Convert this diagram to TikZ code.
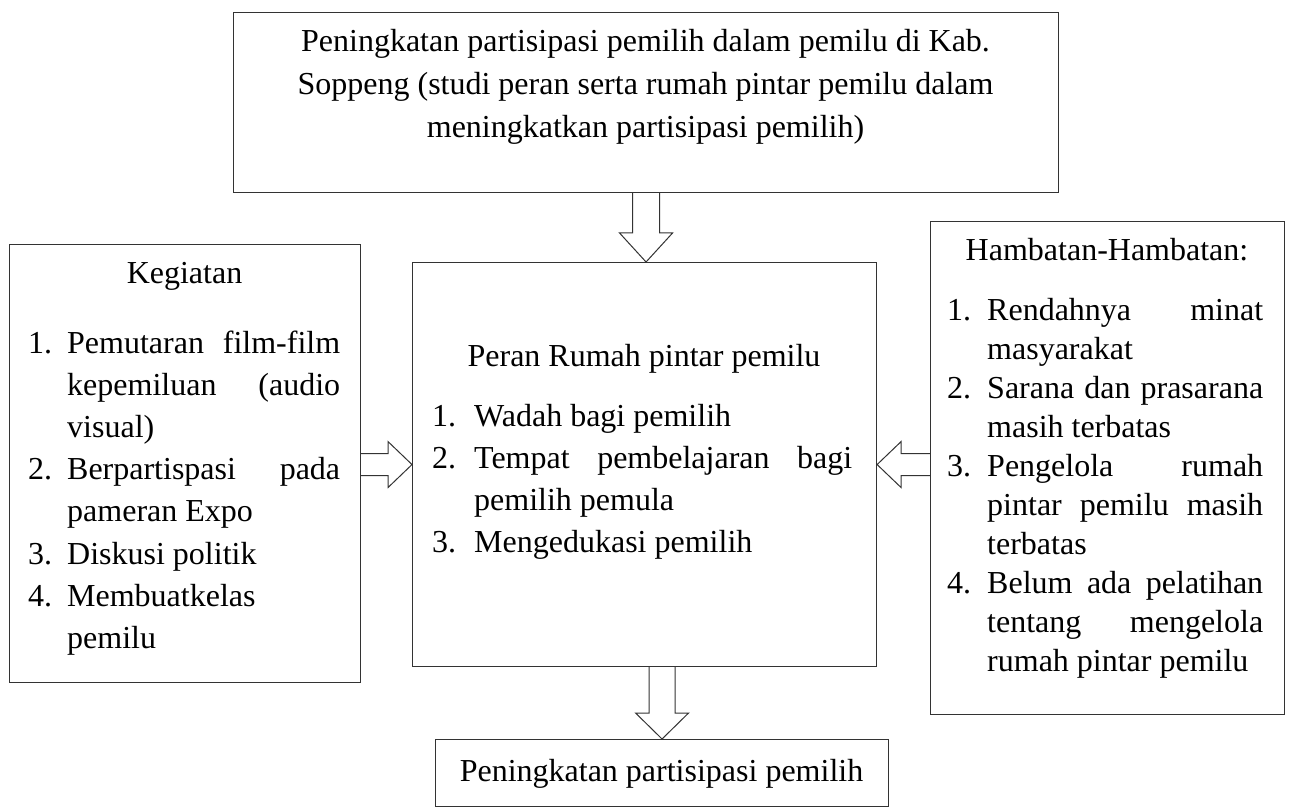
\documentclass[tikz,border=0pt]{standalone}
\usepackage{fontspec}
\setmainfont{Liberation Serif}
\usetikzlibrary{calc}
\newlength{\lsthang}
\newcommand{\lstfont}[1]{\fontsize{32}{#1}\selectfont\tolerance=10000\hbadness=10000\hyphenpenalty=10000\exhyphenpenalty=10000}
\newcommand{\itm}[2]{\par\hangindent=\lsthang\hangafter=1\noindent\makebox[\lsthang][l]{#1}#2}
\tikzset{
  box/.style={draw=black!80, line width=1.1pt, inner sep=0pt, anchor=north west},
  blockarrow/.style={draw=black!80, line width=1pt, line join=miter},
  txt/.style={inner sep=0pt, anchor=base},
  lst/.style={inner sep=0pt, anchor=base west},
  every node/.style={font=\fontsize{32}{42}\selectfont}
}
\begin{document}
\begin{tikzpicture}[x=1pt,y=-1pt]
\fill[white] (0,0) rectangle (1289,810);
\useasboundingbox (0,0) rectangle (1289,810);
% boxes
\node[box, minimum width=825pt, minimum height=180pt] (top) at (233,12) {};
\node[box, minimum width=351pt, minimum height=438pt] (left) at (9,244) {};
\node[box, minimum width=464pt, minimum height=404pt] (center) at (412,262) {};
\node[box, minimum width=354pt, minimum height=493pt] (right) at (930,221) {};
\node[box, minimum width=453pt, minimum height=67pt] (bottom) at (435,739) {};
% arrows
\coordinate (t1) at (top.south);
\coordinate (t2) at (top.south |- center.north);
\draw[blockarrow] ($(t1)+(-13.5,0)$) -- ($(t2)+(-13.5,-29)$) -- ($(t2)+(-26.5,-29)$) -- (t2) -- ($(t2)+(26.5,-29)$) -- ($(t2)+(13.5,-29)$) -- ($(t1)+(13.5,0)$);
\coordinate (b1) at (bottom.north |- center.south);
\coordinate (b2) at (bottom.north);
\draw[blockarrow] ($(b1)+(-13,0)$) -- ($(b2)+(-13,-26)$) -- ($(b2)+(-26.5,-26)$) -- (b2) -- ($(b2)+(26.5,-26)$) -- ($(b2)+(13,-26)$) -- ($(b1)+(13,0)$);
\coordinate (l1) at (left.east |- center.west);
\coordinate (l2) at (center.west);
\draw[blockarrow] ($(l1)+(0,-11)$) -- ($(l2)+(-24,-11)$) -- ($(l2)+(-24,-23)$) -- (l2) -- ($(l2)+(-24,23)$) -- ($(l2)+(-24,11)$) -- ($(l1)+(0,11)$);
\coordinate (r1) at (right.west |- center.east);
\coordinate (r2) at (center.east);
\draw[blockarrow] ($(r1)+(0,-11)$) -- ($(r2)+(24,-11)$) -- ($(r2)+(24,-23)$) -- (r2) -- ($(r2)+(24,23)$) -- ($(r2)+(24,11)$) -- ($(r1)+(0,11)$);
% texts
\node[txt] (toptext) at (645.5,52) {\parbox[t]{800pt}{\centering\fontsize{32}{43}\selectfont Peningkatan partisipasi pemilih dalam pemilu di Kab.\\ Soppeng (studi peran serta rumah pintar pemilu dalam\\ meningkatkan partisipasi pemilih)}};
\node[txt] (lefthead) at (184.5,283) {Kegiatan};
\node[lst] (leftlist) at (28,353) {\parbox[t]{312pt}{\setlength{\lsthang}{39pt}\lstfont{42.2}%
\itm{1.}{Pemutaran film-film\linebreak kepemiluan (audio\linebreak visual)}%
\itm{2.}{Berpartispasi pada\linebreak pameran Expo}%
\itm{3.}{Diskusi politik}%
\itm{4.}{Membuatkelas\newline pemilu}}};
\node[txt] (centerhead) at (644,366) {Peran Rumah pintar pemilu};
\node[lst] (centerlist) at (432,426) {\parbox[t]{420pt}{\setlength{\lsthang}{42pt}\lstfont{42}%
\itm{1.}{Wadah bagi pemilih}%
\itm{2.}{Tempat pembelajaran bagi\linebreak pemilih pemula}%
\itm{3.}{Mengedukasi pemilih}}};
\node[txt] (righthead) at (1107,260) {Hambatan-Hambatan:};
\node[lst] (rightlist) at (947,320) {\parbox[t]{316pt}{\setlength{\lsthang}{40pt}\lstfont{39}%
\itm{1.}{Rendahnya minat\linebreak masyarakat}%
\itm{2.}{Sarana dan prasarana\linebreak masih terbatas}%
\itm{3.}{Pengelola rumah\linebreak pintar pemilu masih\linebreak terbatas}%
\itm{4.}{Belum ada pelatihan\linebreak tentang mengelola\linebreak rumah pintar pemilu}}};
\node[txt] (bottomtext) at (661.5,781) {Peningkatan partisipasi pemilih};
\end{tikzpicture}
\end{document}
